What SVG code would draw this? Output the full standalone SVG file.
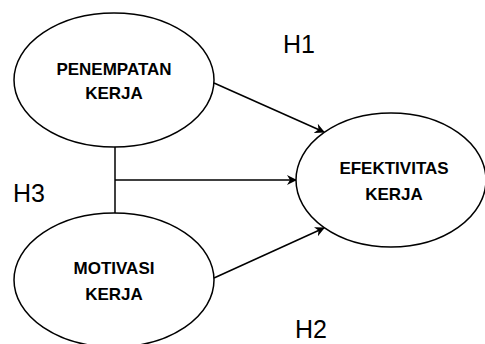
<svg xmlns="http://www.w3.org/2000/svg" width="485" height="344" viewBox="0 0 485 344">
<style>
.node{fill:#fff;stroke:#000;stroke-width:1.5}
.lbl{font-family:"Liberation Sans",Arial,sans-serif;font-weight:bold;font-size:17px;fill:#000;text-anchor:middle}
.h{font-family:"Liberation Sans",Arial,sans-serif;font-size:25px;fill:#000}
.con{fill:none;stroke:#000;stroke-width:1.5}
</style>
<defs>
<marker id="arr" viewBox="0 0 10 10" refX="9" refY="5" markerWidth="10" markerHeight="10" markerUnits="userSpaceOnUse" orient="auto">
<path d="M0,0 L10,5 L0,10 L3,5 Z" fill="#000"/>
</marker>
</defs>
<rect width="485" height="344" fill="#fff"/>
<g id="connectors">
<line class="con" x1="115" y1="147" x2="115" y2="213"/>
<line class="con" x1="115" y1="180" x2="296" y2="180" marker-end="url(#arr)"/>
<line class="con" x1="214" y1="83" x2="324" y2="132" marker-end="url(#arr)"/>
<line class="con" x1="214" y1="278" x2="324" y2="228" marker-end="url(#arr)"/>
</g>
<g id="penempatan">
<ellipse class="node" cx="114" cy="80" rx="100" ry="67"/>
<text class="lbl" x="114" y="75">PENEMPATAN</text>
<text class="lbl" x="114" y="99">KERJA</text>
</g>
<g id="motivasi">
<ellipse class="node" cx="114" cy="280" rx="100" ry="67"/>
<text class="lbl" x="114" y="274">MOTIVASI</text>
<text class="lbl" x="114" y="300">KERJA</text>
</g>
<g id="efektivitas">
<ellipse class="node" cx="391" cy="180" rx="95" ry="67"/>
<text class="lbl" x="394" y="174">EFEKTIVITAS</text>
<text class="lbl" x="394" y="200">KERJA</text>
</g>
<g id="labels">
<text class="h" x="283" y="53">H1</text>
<text class="h" x="13" y="202">H3</text>
<text class="h" x="295" y="338">H2</text>
</g>
</svg>
